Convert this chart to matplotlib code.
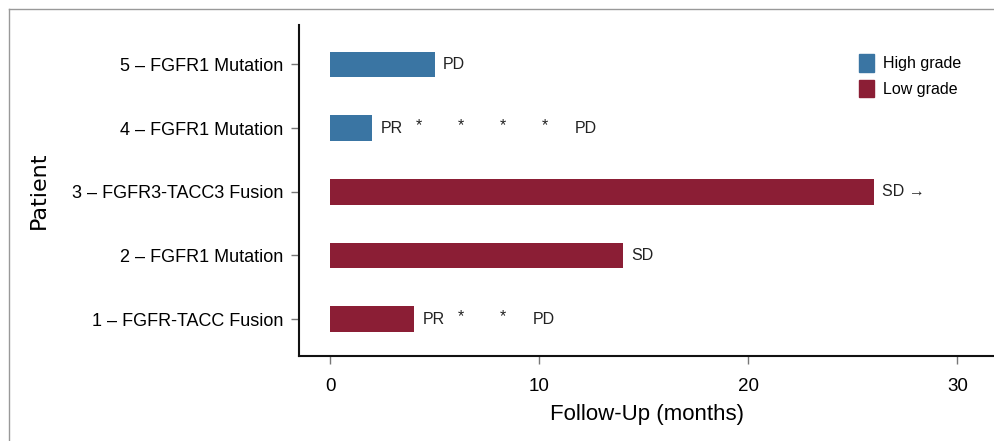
import matplotlib.pyplot as plt
from matplotlib.patches import Patch
from matplotlib import font_manager

narrow = 'Liberation Sans Narrow'
names = {f.name for f in font_manager.fontManager.ttflist}
if narrow not in names:
    narrow = 'Liberation Sans'

patients = ['1 – FGFR-TACC Fusion', '2 – FGFR1 Mutation', '3 – FGFR3-TACC3 Fusion',
            '4 – FGFR1 Mutation', '5 – FGFR1 Mutation']
followup = [4, 14, 26, 2, 5]
grade = ['Low', 'Low', 'Low', 'High', 'High']
end_label = ['PR', 'SD', 'SD →', 'PR', 'PD']
stars = [[6.25, 8.25], [], [], [4.25, 6.25, 8.25, 10.25], []]
pd_at = [9.7, None, None, 11.7, None]

colors = {'High': '#3a75a3', 'Low': '#8b1e35'}

fig = plt.figure(figsize=(9.95, 4.41), dpi=100)
ax = fig.add_axes([0.3005, 0.1927, 0.6995, 0.7506])

ypos = list(range(1, 6))
ax.barh(ypos, followup, height=0.4, color=[colors[g] for g in grade])

fs = 11.5
for y, v, lab, st, p in zip(ypos, followup, end_label, stars, pd_at):
    ax.text(v + 0.4, y, lab, va='center', ha='left', fontsize=fs,
            family='Liberation Sans', color='#222222')
    for s in st:
        ax.text(s, y + 0.04, '*', va='center', ha='center', fontsize=fs,
                family='Liberation Sans', color='#222222')
    if p is not None:
        ax.text(p, y, 'PD', va='center', ha='left', fontsize=fs,
                family='Liberation Sans', color='#222222')

ax.set_xlim(-1.5, 31.8)
ax.set_ylim(0.42, 5.62)
ax.set_xticks([0, 10, 20, 30])
ax.set_yticks(ypos)
ax.set_yticklabels(patients, family=narrow, fontsize=13)
for t in ax.get_xticklabels():
    t.set_family(narrow)
    t.set_fontsize(13.5)
ax.tick_params(axis='both', length=6, width=1, color='#777777', pad=5)
ax.tick_params(axis='x', pad=10)

for side in ['top', 'right']:
    ax.spines[side].set_visible(False)
for side in ['left', 'bottom']:
    ax.spines[side].set_linewidth(1.5)
    ax.spines[side].set_color('#111111')

ax.set_xlabel('Follow-Up (months)', family=narrow, fontsize=16, labelpad=6)
ax.set_ylabel('Patient', family='DejaVu Sans', fontsize=16)
ax.yaxis.set_label_coords(-0.36, 0.5)

handles = [Patch(color=colors['High'], label='High grade'),
           Patch(color=colors['Low'], label='Low grade')]
ax.legend(handles=handles, loc='upper right', bbox_to_anchor=(0.972, 0.955),
          frameon=False, prop={'family': 'Liberation Sans', 'size': 11.5},
          handlelength=0.95, handleheight=1.3, handletextpad=0.55, labelspacing=0.5)

# outer frame
fig.add_artist(plt.Line2D([9 / 995, 1], [1 - 9 / 441, 1 - 9 / 441], color='#999999', lw=1))
fig.add_artist(plt.Line2D([9 / 995, 9 / 995], [0, 1 - 9 / 441], color='#999999', lw=1))

fig.savefig('out.png', dpi=100)
